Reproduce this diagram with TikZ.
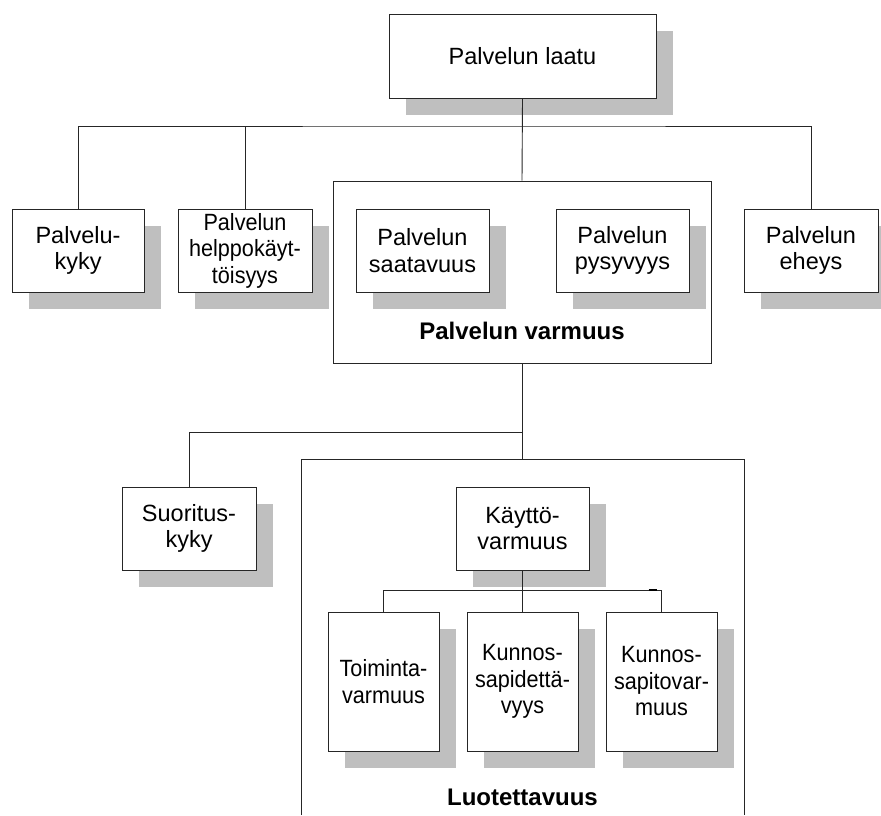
\documentclass[tikz,border=0pt]{standalone}
\usepackage{fontspec}
\setmainfont{Liberation Sans}
\newfontfamily\narrowfont[FakeStretch=0.92]{Liberation Sans}
\usetikzlibrary{shadows}
\newlength{\boxwidth}
\setlength{\boxwidth}{134pt}
\newlength{\boxheight}
\setlength{\boxheight}{83pt}
\newlength{\subwidth}
\setlength{\subwidth}{111pt}
\newlength{\subheight}
\setlength{\subheight}{139pt}
\newlength{\shadowsep}
\setlength{\shadowsep}{17pt}

\begin{document}
\begin{tikzpicture}[x=1pt,y=-1pt]
  \tikzstyle{unit}=[
       draw=black!85,
       line width=0.9pt,
       fill=white,
       align=center,
       inner sep=0pt,
       minimum width=\boxwidth,
       minimum height=\boxheight,
       font=\fontsize{23.5}{26.5}\selectfont,
       drop shadow={shadow xshift=\shadowsep, shadow yshift=-\shadowsep,
                    fill=black!25, opacity=1}]
  \tikzstyle{subunit}=[
       unit,
       minimum width=\subwidth,
       minimum height=\subheight,
       font=\narrowfont\fontsize{23.5}{26.5}\selectfont]
  \tikzstyle{frame}=[draw=black!85, line width=0.9pt]
  \tikzstyle{title}=[font=\bfseries\fontsize{24}{26.5}\selectfont, inner sep=0pt]
  \tikzstyle{link}=[draw=black!85, line width=0.9pt]

  \useasboundingbox (0,0) rectangle (881,815);
  \clip (0,0) rectangle (881,815);

  % top level
  \node[unit, minimum width=267pt, minimum height=84pt] (laatu) at (522.5,56) {Palvelun laatu};
  \node[unit, minimum width=132pt] (kyky) at (78,250.5) {Palvelu-\\kyky};
  \node[unit, font=\narrowfont\fontsize{23.5}{26.5}\selectfont] (helppo) at (245,250.5) {Palvelun\\helppokäyt-\\töisyys};
  \node[frame, minimum width=378pt, minimum height=182pt, inner sep=0pt] (varmuus) at (522,272) {};
  \node[unit, minimum width=133pt] (saatavuus) at (422.5,250.5) {Palvelun\\saatavuus};
  \node[unit, minimum width=133pt] (pysyvyys) at (622.5,250.5) {Palvelun\\pysyvyys};
  \node[title] (varmuustext) at (522,331) {Palvelun varmuus};
  \node[unit] (eheys) at (811,250.5) {Palvelun\\eheys};

  % second level
  \node[unit] (suoritus) at (189,528.5) {Suoritus-\\kyky};
  \coordinate (luotNW) at (301,459);
  \coordinate (luotNE) at (744,459);
  \coordinate (luot) at (522,459);
  \draw[frame] (luotNW |- 0,815) -- (luotNW) -- (luotNE) -- (luotNE |- 0,815);
  \node[unit, minimum width=133pt] (kaytto) at (522.5,528.5) {Käyttö-\\varmuus};
  \node[subunit] (toiminta) at (383.5,681.5) {Toiminta-\\varmuus};
  \node[subunit] (pidettavyys) at (522.5,681.5) {Kunnos-\\sapidettä-\\vyys};
  \node[subunit] (pitovarmuus) at (661.5,681.5) {Kunnos-\\sapitovar-\\muus};
  \node[title] (luottext) at (522.5,797) {Luotettavuus};

  % connectors
  \coordinate (bus1) at (522.5,126);
  \coordinate (bus2) at (522,432);
  \coordinate (bus3) at (522.5,590);
  \draw[link] (laatu.south) -- (varmuus.north);
  \draw[link] (kyky.north) |- (bus1) -| (eheys.north);
  \draw[link] (helppo.north) -- (helppo.north |- bus1);
  \draw[link] (varmuus.south) -- (luot);
  \draw[link] (suoritus.north) |- (bus2);
  \draw[link] (kaytto.south) -- (pidettavyys.north);
  \draw[link] (toiminta.north) |- (bus3) -| (pitovarmuus.north);
  \draw[line width=2pt] ([xshift=-13pt]pitovarmuus.north |- bus3) -- ++(8,0);
\end{tikzpicture}
\end{document}
